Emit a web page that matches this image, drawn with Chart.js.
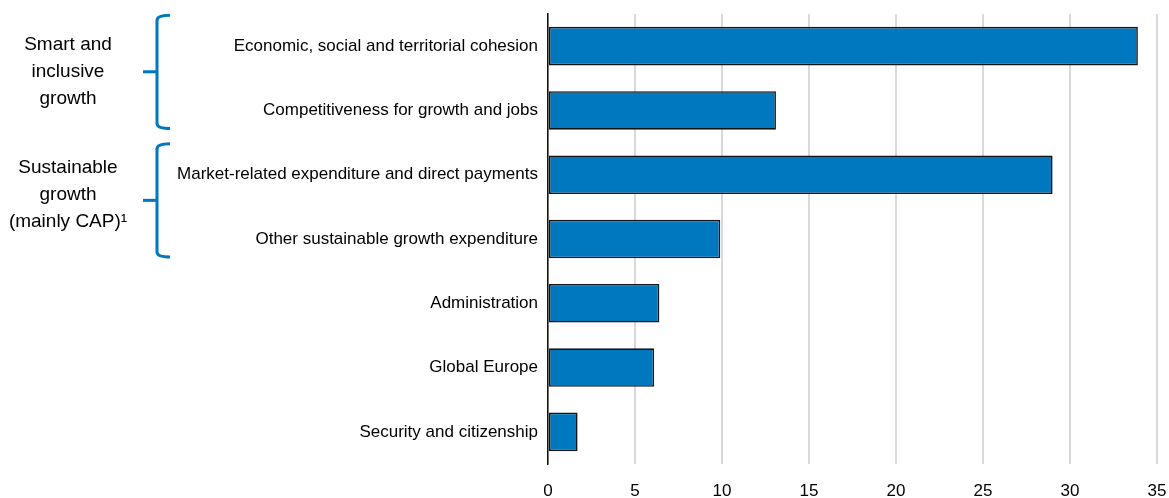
<!DOCTYPE html>
<html>
<head>
<meta charset="utf-8">
<script src="https://cdn.jsdelivr.net/npm/chart.js@4"></script>
<style>
  html, body { margin: 0; padding: 0; background: #ffffff; }
  #wrap { width: 1169px; height: 498px; position: relative; }
</style>
</head>
<body>
<div id="wrap"><canvas id="chart"></canvas></div>
<script>
// EU budget headings, expenditure (EUR billion)
const categories = [
  'Economic, social and territorial cohesion',
  'Competitiveness for growth and jobs',
  'Market-related expenditure and direct payments',
  'Other sustainable growth expenditure',
  'Administration',
  'Global Europe',
  'Security and citizenship'
];
const values = [33.9, 13.1, 29.0, 9.9, 6.4, 6.1, 1.7];
const xTicks = [0, 5, 10, 15, 20, 25, 30, 35];

// Heading groups shown with braces on the left
const groupLabels = [
  ['Smart and', 'inclusive', 'growth'],
  ['Sustainable', 'growth', '(mainly CAP)\u00b9']
];
const groupRows = [[0, 1], [2, 3]];
const groupTextShift = [0, -6];

const FONT = '"Liberation Sans", Arial, sans-serif';
const BLUE = '#0078C0';
const TEXT = '#000000';

const bracePlugin = {
  id: 'braces',
  afterDraw(chart) {
    const ctx = chart.ctx;
    const y = chart.scales.y;
    ctx.save();
    groupRows.forEach((rows, i) => {
      const top = y.getPixelForValue(rows[0]) - 31;
      const bottom = y.getPixelForValue(rows[1]) + 18;
      const mid = (top + bottom) / 2;
      const xv = 157, xh = 170, xt = 143;
      ctx.strokeStyle = BLUE;
      ctx.lineWidth = 3;
      ctx.lineCap = 'butt';
      ctx.beginPath();
      ctx.moveTo(xh, top);
      ctx.quadraticCurveTo(xv, top, xv, top + 5);
      ctx.lineTo(xv, bottom - 5);
      ctx.quadraticCurveTo(xv, bottom, xh, bottom);
      ctx.stroke();
      ctx.beginPath();
      ctx.moveTo(xv, mid);
      ctx.lineTo(xt, mid);
      ctx.stroke();

      // group caption
      const lines = groupLabels[i];
      const lh = 27;
      const cy = mid + groupTextShift[i];
      ctx.fillStyle = TEXT;
      ctx.font = '19px ' + FONT;
      ctx.textAlign = 'center';
      ctx.textBaseline = 'middle';
      lines.forEach((t, k) => {
        ctx.fillText(t, 68, cy + (k - (lines.length - 1) / 2) * lh);
      });
    });
    ctx.restore();
  }
};

new Chart(document.getElementById('chart'), {
  type: 'bar',
  data: {
    labels: categories,
    datasets: [{
      data: values,
      backgroundColor: BLUE,
      borderColor: '#141414',
      borderWidth: 1.6,
      borderSkipped: false,
      barPercentage: 0.6,
      categoryPercentage: 1.0
    }]
  },
  options: {
    indexAxis: 'y',
    responsive: true,
    maintainAspectRatio: false,
    animation: false,
    layout: { padding: { top: 14, right: 12, bottom: 0, left: 0 } },
    plugins: {
      legend: { display: false },
      tooltip: { enabled: false }
    },
    scales: {
      x: {
        min: 0,
        max: 35,
        afterBuildTicks(scale) { scale.ticks = xTicks.map(v => ({ value: v })); },
        afterFit(scale) {
          scale.height = 34;
          scale.paddingLeft = 0;
          scale.paddingRight = 0;
        },
        grid: {
          color: '#d9d9d9',
          lineWidth: 2,
          drawTicks: false
        },
        border: { display: false },
        ticks: {
          padding: 17,
          color: TEXT,
          font: { family: FONT, size: 17 }
        }
      },
      y: {
        afterFit(scale) {
          scale.width = 548;
          scale.paddingTop = 0;
          scale.paddingBottom = 0;
        },
        grid: { display: false, drawTicks: false },
        border: { display: true, color: '#111111', width: 1.5 },
        ticks: {
          padding: 10,
          color: TEXT,
          font: { family: FONT, size: 17 }
        }
      }
    }
  },
  plugins: [bracePlugin]
});
</script>
</body>
</html>
